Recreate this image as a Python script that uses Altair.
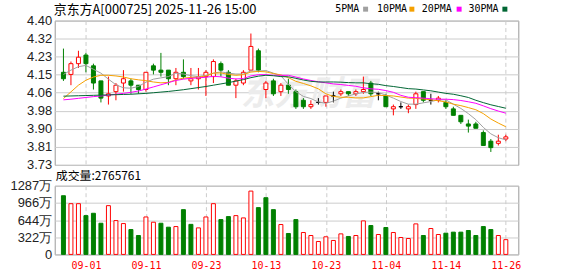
import json
import altair as alt
import pandas as pd

# ---------------- data ----------------
dates = ["08-27","08-28","08-29","09-01","09-02","09-03","09-04","09-05","09-08","09-09",
         "09-10","09-11","09-12","09-15","09-16","09-17","09-18","09-19","09-22","09-23",
         "09-24","09-25","09-26","09-29","09-30","10-09","10-10","10-13","10-14","10-15",
         "10-16","10-17","10-20","10-21","10-22","10-23","10-24","10-27","10-28","10-29",
         "10-30","10-31","11-03","11-04","11-05","11-06","11-07","11-10","11-11","11-12",
         "11-13","11-14","11-17","11-18","11-19","11-20","11-21","11-24","11-25","11-26"]

open_ = [4.16,4.15,4.20,4.24,4.19,4.12,4.05,4.07,4.11,4.12, 4.10,4.08,4.19,4.17,4.17,4.13,4.16,4.12,4.13,4.14,
         4.14,4.20,4.16,4.10,4.11,4.17,4.26,4.08,4.12,4.07, 4.10,4.07,4.03,4.00,4.02,4.02,4.05,4.06,4.07,4.06,
         4.07,4.11,4.06,4.05,3.99,4.00,3.99,4.01,4.07,4.03, 4.03,4.02,3.99,3.96,3.92,3.92,3.88,3.84,3.83,3.85]
high = [4.27,4.21,4.26,4.25,4.20,4.12,4.14,4.11,4.17,4.13, 4.10,4.16,4.20,4.25,4.17,4.18,4.22,4.18,4.18,4.17,
        4.22,4.21,4.17,4.13,4.17,4.34,4.27,4.12,4.13,4.11, 4.13,4.08,4.04,4.03,4.04,4.05,4.07,4.08,4.07,4.08,
        4.14,4.12,4.07,4.06,4.01,4.02,4.01,4.07,4.07,4.06, 4.05,4.03,4.00,3.96,3.94,3.93,3.89,3.85,3.87,3.87]
low = [4.12,4.10,4.18,4.16,4.08,4.02,4.01,4.03,4.07,4.06, 4.06,4.07,4.15,4.14,4.10,4.10,4.13,4.10,4.08,4.05,
       4.11,4.14,4.10,4.04,4.10,4.17,4.16,4.04,4.05,4.05, 4.06,3.99,3.99,3.99,4.01,4.00,4.02,4.05,4.05,4.05,
       4.06,4.05,4.03,4.00,3.96,3.99,3.97,3.99,4.02,4.01, 4.02,3.99,3.96,3.92,3.88,3.90,3.82,3.79,3.82,3.84]
close = [4.13,4.20,4.23,4.20,4.11,4.04,4.06,4.10,4.13,4.10, 4.08,4.16,4.17,4.16,4.13,4.16,4.14,4.13,4.14,4.16,
         4.21,4.17,4.10,4.12,4.16,4.28,4.17,4.11,4.06,4.10, 4.08,4.00,4.00,4.01,4.02,4.05,4.05,4.07,4.06,4.07,
         4.08,4.06,4.06,4.00,4.00,4.00,4.00,4.06,4.03,4.03, 4.04,4.00,3.96,3.93,3.91,3.90,3.82,3.81,3.84,3.86]
# volume in 万 (10k shares)
volume = [1100,951,951,727,771,584,914,634,578,466, 354,702,603,584,510,522,839,563,497,702,
          951,653,709,727,684,1187,877,1063,839,560, 392,653,410,354,242,330,261,385,336,354,
          628,541,373,504,410,317,298,572,354,485, 373,398,417,417,448,354,522,466,354,276.5761]

ma5 = [4.150,4.170,4.186,4.192,4.174,4.156,4.128,4.102,4.088,4.086, 4.094,4.114,4.128,4.134,4.140,4.156,4.152,4.144,4.140,4.146,
       4.156,4.162,4.156,4.152,4.152,4.166,4.166,4.168,4.156,4.144, 4.104,4.070,4.048,4.038,4.022,4.016,4.026,4.040,4.050,4.060,
       4.066,4.068,4.066,4.054,4.040,4.024,4.012,4.012,4.018,4.024, 4.032,4.032,4.012,3.992,3.968,3.940,3.904,3.874,3.856,3.846]
ma10 = [4.038,4.069,4.100,4.123,4.138,4.146,4.146,4.143,4.138,4.130, 4.125,4.121,4.115,4.111,4.113,4.125,4.133,4.136,4.137,4.143,
        4.156,4.157,4.150,4.146,4.149,4.161,4.164,4.162,4.154,4.148, 4.135,4.118,4.108,4.097,4.083,4.060,4.048,4.044,4.044,4.041,
        4.041,4.047,4.053,4.052,4.050,4.045,4.040,4.039,4.036,4.032, 4.028,4.022,4.012,4.005,3.996,3.986,3.968,3.943,3.924,3.907]
ma20 = [4.032,4.035,4.039,4.043,4.047,4.050,4.054,4.058,4.062,4.067, 4.073,4.082,4.092,4.102,4.112,4.122,4.128,4.132,4.134,4.137,
        4.141,4.139,4.133,4.129,4.131,4.143,4.149,4.149,4.146,4.146, 4.146,4.138,4.129,4.122,4.116,4.111,4.106,4.103,4.099,4.095,
        4.088,4.083,4.081,4.075,4.067,4.053,4.044,4.042,4.040,4.037, 4.035,4.035,4.033,4.029,4.023,4.016,4.004,3.991,3.980,3.970]
ma30 = [4.049,4.050,4.051,4.052,4.053,4.054,4.055,4.056,4.057,4.058, 4.060,4.062,4.065,4.068,4.071,4.075,4.079,4.084,4.089,4.094,
        4.100,4.106,4.112,4.119,4.126,4.135,4.142,4.146,4.144,4.140, 4.139,4.132,4.124,4.118,4.115,4.115,4.115,4.114,4.112,4.111,
        4.111,4.107,4.104,4.098,4.094,4.089,4.084,4.082,4.078,4.074, 4.068,4.062,4.058,4.051,4.043,4.030,4.019,4.009,4.001,3.993]

x_tick_labels = ["09-01","09-11","09-23","10-13","10-23","11-04","11-14","11-26"]
price_tick_labels = ["3.73","3.81","3.90","3.98","4.06","4.15","4.23","4.32","4.40"]
vol_tick_labels = ["0","322万","644万","966万","1287万"]
ma_names = ["5PMA","10PMA","20PMA","30PMA"]
ma_colors = ["#a0a0a0","#f5a000","#ff00ff","#006633"]

title_text = "京东方A[000725] 2025-11-26 15:00"

# ---------------- derived tables ----------------
n = len(dates)
idx = list(range(n))

def cdir(o, c):
    return "up" if c > o else ("down" if c < o else "flat")

candles = pd.DataFrame({
    "i": idx, "date": dates, "open": open_, "high": high, "low": low, "close": close,
    "dir": [cdir(o, c) for o, c in zip(open_, close)],
})
vol_df = pd.DataFrame({
    "i": idx, "vol": volume,
    "vdir": ["up" if close[k] >= (close[k-1] if k > 0 else open_[0]) else "down" for k in idx],
})
ma_df = pd.DataFrame({
    "i": idx * 4,
    "v": ma5 + ma10 + ma20 + ma30,
    "s": sum([[nm] * n for nm in ma_names], []),
})

RED, GREEN, BLACK = "#ff0000", "#008000", "#000000"
dir_dom = ["up", "down", "flat"]
fill_scale = alt.Scale(domain=dir_dom, range=["#ffffff", GREEN, BLACK])
stroke_scale = alt.Scale(domain=dir_dom, range=[RED, GREEN, BLACK])

pmin, pmax = 3.73, 4.40
pstep = (pmax - pmin) / (len(price_tick_labels) - 1)
price_ticks = [pmin + k * pstep for k in range(len(price_tick_labels))]
vmax = 1287
vstep = vmax / (len(vol_tick_labels) - 1)
vol_ticks = [k * vstep for k in range(len(vol_tick_labels))]
x_ticks = [dates.index(d) for d in x_tick_labels]

xscale = alt.Scale(domain=[-0.5, 60.0], nice=False, zero=False)
FONT = "Liberation Sans"
CJK = "Noto Sans CJK SC"

x_price = alt.X("i:Q", scale=xscale, title=None,
                axis=alt.Axis(values=x_ticks, labels=False, ticks=False, domain=False, grid=True,
                              gridDash=[4, 3], gridColor="#cccccc"))
y_price_axis = alt.Axis(values=price_ticks, title=None, ticks=False, domain=False, grid=True,
                        gridColor="#cccccc", labelFont=FONT, labelFontSize=13, labelColor="#222222",
                        labelPadding=3,
                        labelExpr=f"{json.dumps(price_tick_labels)}[round((datum.value-{pmin})/{pstep})]")
pscale = alt.Scale(domain=[pmin, pmax], nice=False, zero=False)

one = pd.DataFrame({"k": [0]})

watermark = alt.Chart(one).mark_text(text="东方财富", font=CJK, fontSize=34, fontWeight="bold",
                                     fontStyle="italic", color="#ececec", align="center",
                                     baseline="middle").encode(x=alt.value(255), y=alt.value(75))

wick = alt.Chart(candles).mark_rule(strokeWidth=1).encode(
    x=x_price,
    y=alt.Y("low:Q", scale=pscale, axis=y_price_axis),
    y2="high:Q",
    stroke=alt.Stroke("dir:N", scale=stroke_scale, legend=None),
)
body = alt.Chart(candles).mark_bar(size=4, strokeWidth=1).encode(
    x=x_price,
    y=alt.Y("open:Q", scale=pscale, axis=y_price_axis),
    y2="close:Q",
    fill=alt.Fill("dir:N", scale=fill_scale, legend=None),
    stroke=alt.Stroke("dir:N", scale=stroke_scale, legend=None),
)
ma_lines = alt.Chart(ma_df).mark_line(strokeWidth=1).encode(
    x=x_price,
    y=alt.Y("v:Q", scale=pscale, axis=y_price_axis),
    color=alt.Color("s:N", scale=alt.Scale(domain=ma_names, range=ma_colors), legend=None),
)

title_mark = alt.Chart(one).mark_text(text=title_text, font=CJK, fontSize=13, align="left",
                                      baseline="middle", color="#000000").encode(
    x=alt.value(-1), y=alt.value(-11))

legend_layers = []
legend_text_x = [282, 324, 369, 416]
legend_sq_x = [312.5, 359, 406.5, 452.5]
for nm, col, tx, sx in zip(ma_names, ma_colors, legend_text_x, legend_sq_x):
    legend_layers.append(alt.Chart(one).mark_text(text=nm, font="DejaVu Sans Mono", fontSize=10,
                                                  align="left", baseline="middle", color="#000000")
                         .encode(x=alt.value(tx), y=alt.value(-11.5)))
    legend_layers.append(alt.Chart(one).mark_square(size=25, filled=True, color=col, opacity=1)
                         .encode(x=alt.value(sx), y=alt.value(-11.5)))

price = alt.layer(watermark, wick, body, ma_lines, title_mark, *legend_layers).properties(
    width=466, height=145)

# ---------------- volume ----------------
x_vol = alt.X("i:Q", scale=xscale, title=None,
              axis=alt.Axis(values=x_ticks, ticks=False, domain=False, grid=True, gridDash=[4, 3],
                            gridColor="#cccccc", labelFont="DejaVu Sans Mono", labelFontSize=10,
                            labelColor=RED, labelPadding=6, labelOverlap=False, labelFlush=False,
                            labelExpr=f"{json.dumps(dates)}[datum.value]"))
vol_bars = alt.Chart(vol_df).mark_bar(size=4, strokeWidth=1).encode(
    x=x_vol,
    y=alt.Y("vol:Q", scale=alt.Scale(domain=[0, vmax], nice=False),
            axis=alt.Axis(values=vol_ticks, title=None, ticks=False, domain=False, grid=True,
                          gridColor="#cccccc", labelFont=FONT, labelFontSize=13,
                          labelColor="#222222", labelPadding=3,
                          labelExpr=f"{json.dumps(vol_tick_labels)}[round(datum.value/{vstep})]")),
    fill=alt.Fill("vdir:N", scale=fill_scale, legend=None),
    stroke=alt.Stroke("vdir:N", scale=stroke_scale, legend=None),
)
vol_label = alt.Chart(one).mark_text(
    text="成交量:" + str(int(round(volume[-1] * 10000))), font=CJK, fontSize=12,
    align="left", baseline="middle", color="#000000").encode(x=alt.value(1), y=alt.value(-10))

vol_chart = alt.layer(vol_bars, vol_label).properties(width=466, height=69)

chart = (alt.vconcat(price, vol_chart, spacing=21, bounds="flush")
         .resolve_scale(y="independent")
         .properties(padding={"left": 9, "top": 2, "right": 56, "bottom": 4}, background="#ffffff")
         .configure_view(stroke="#999999", strokeWidth=1))

chart.save("out.html", embed_options={"renderer": "svg", "actions": False})
